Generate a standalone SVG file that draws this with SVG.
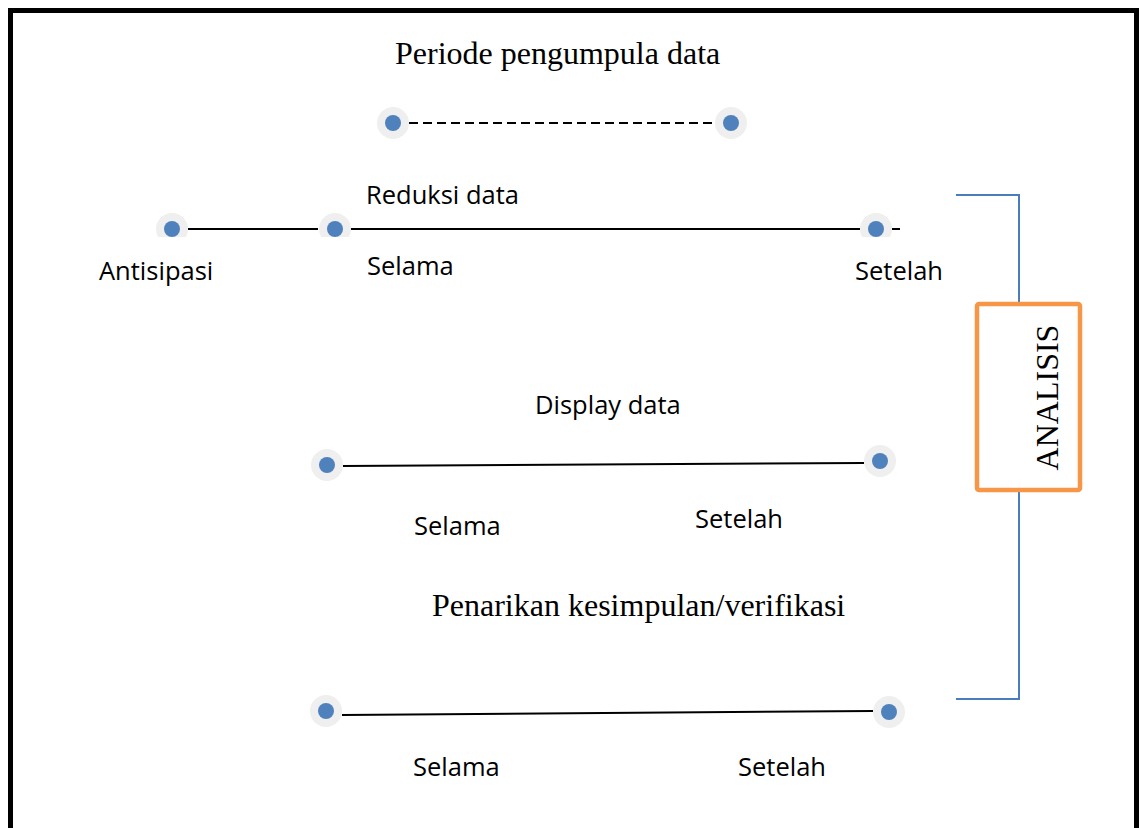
<svg xmlns="http://www.w3.org/2000/svg" width="1139" height="828" viewBox="0 0 1139 828">
<style>
.halo{fill:#efefef}
.dot{fill:#4f81bd}
.ln{stroke:#000;stroke-width:2;fill:none}
.br{stroke:#4a7ebb;stroke-width:2;fill:none}
.serif{font-family:"Liberation Serif","Times New Roman",serif;font-size:32px;fill:#000}
.sans{font-family:"Open Sans","Noto Sans",sans-serif;font-size:25.5px;fill:#000}
</style>
<defs>
<clipPath id="cut"><rect x="0" y="0" width="1139" height="237"/></clipPath>
</defs>
<rect x="0" y="0" width="1139" height="828" fill="#fff"/>
<rect x="10.5" y="10.5" width="1126" height="900" fill="none" stroke="#000" stroke-width="5"/>

<g id="connectors">
<line class="ln" x1="409" y1="123" x2="714" y2="123" stroke-dasharray="9,5"/>
<line class="ln" x1="188" y1="229" x2="318" y2="229"/>
<line class="ln" x1="351" y1="229" x2="860" y2="229"/>
<line class="ln" x1="892" y1="229" x2="900" y2="229"/>
<line class="ln" x1="343" y1="466" x2="864" y2="463"/>
<line class="ln" x1="342" y1="715" x2="873" y2="711"/>
<polyline class="br" points="956,195 1019,195 1019,302"/>
<polyline class="br" points="1019,492 1019,699 956,699"/>
</g>

<g id="title"><text class="serif" x="395" y="64">Periode pengumpula data</text></g>
<g id="period-start"><circle class="halo" cx="393" cy="123" r="16"/><circle class="dot" cx="393" cy="123" r="8"/></g>
<g id="period-end"><circle class="halo" cx="731" cy="123" r="16"/><circle class="dot" cx="731" cy="123" r="8"/></g>

<g id="reduksi-label"><text class="sans" x="366" y="204">Reduksi data</text></g>
<g id="antisipasi" clip-path="url(#cut)"><circle class="halo" cx="172" cy="229" r="16"/><circle class="dot" cx="172" cy="229" r="8"/></g>
<g id="antisipasi-label"><text class="sans" x="99" y="280">Antisipasi</text></g>
<g id="reduksi-selama" clip-path="url(#cut)"><circle class="halo" cx="335" cy="229" r="16"/><circle class="dot" cx="335" cy="229" r="8"/></g>
<g id="reduksi-selama-label"><text class="sans" x="367" y="275">Selama</text></g>
<g id="reduksi-setelah" clip-path="url(#cut)"><circle class="halo" cx="876" cy="229" r="16"/><circle class="dot" cx="876" cy="229" r="8"/></g>
<g id="reduksi-setelah-label"><text class="sans" x="855" y="280">Setelah</text></g>

<g id="display-label"><text class="sans" x="535" y="414">Display data</text></g>
<g id="display-selama"><circle class="halo" cx="327" cy="465" r="16"/><circle class="dot" cx="327" cy="465" r="8"/></g>
<g id="display-selama-label"><text class="sans" x="414" y="535">Selama</text></g>
<g id="display-setelah"><circle class="halo" cx="880" cy="461" r="16"/><circle class="dot" cx="880" cy="461" r="8"/></g>
<g id="display-setelah-label"><text class="sans" x="695" y="528">Setelah</text></g>

<g id="kesimpulan-label"><text class="serif" x="432" y="616">Penarikan kesimpulan/verifikasi</text></g>
<g id="kesimpulan-selama"><circle class="halo" cx="326" cy="711" r="16"/><circle class="dot" cx="326" cy="711" r="8"/></g>
<g id="kesimpulan-selama-label"><text class="sans" x="413" y="776">Selama</text></g>
<g id="kesimpulan-setelah"><circle class="halo" cx="889" cy="712" r="16"/><circle class="dot" cx="889" cy="712" r="8"/></g>
<g id="kesimpulan-setelah-label"><text class="sans" x="738" y="776">Setelah</text></g>

<g id="analisis">
<rect x="977" y="304" width="103" height="186" rx="2" fill="#fff" stroke="#f79646" stroke-width="4.5"/>
<text class="serif" x="0" y="0" font-size="31px" text-anchor="middle" transform="translate(1058,397.5) rotate(-90)">ANALISIS</text>
</g>
</svg>
